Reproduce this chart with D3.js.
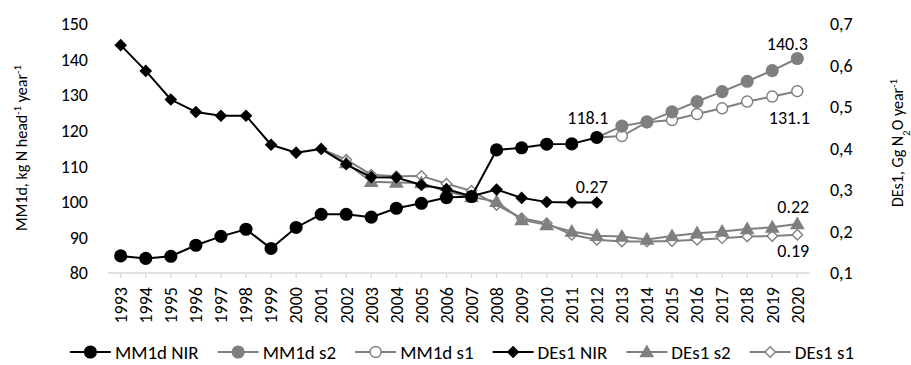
<!DOCTYPE html>
<html>
<head>
<meta charset="UTF-8">
<title>MM1d and DEs1</title>
<script src="https://d3js.org/d3.v7.min.js"></script>
<style>
body { margin: 0; background: #fff; }
text { font-family: Calibri, Carlito, Lato, sans-serif; fill: #000; }
</style>
</head>
<body>
<svg id="chart" width="911" height="365"></svg>
<script>
// years on the category axis
var years = d3.range(1993, 2021).map(String);

// left axis series, kg N head-1 year-1
var mm1dNIR = [84.8, 84.1, 84.7, 87.8, 90.3, 92.3, 86.9, 92.8, 96.5, 96.5,
               95.7, 98.2, 99.6, 101.2, 101.5, 114.6, 115.2, 116.2, 116.3, 118.1];
var mm1dS2Years = ["2012","2013","2014","2015","2016","2017","2018","2019","2020"];
var mm1dS2 = [118.1, 121.3, 122.5, 125.3, 128.2, 131.0, 133.9, 136.9, 140.3];
var mm1dS1 = [118.1, 118.5, 122.4, 123.0, 124.7, 126.3, 128.2, 129.6, 131.1];

// right axis series, Gg N2O year-1
var des1NIR = [0.649, 0.587, 0.518, 0.488, 0.479, 0.479, 0.409, 0.390, 0.399, 0.362,
               0.331, 0.330, 0.312, 0.302, 0.285, 0.301, 0.281, 0.271, 0.270, 0.270];
var des1Years = d3.range(2001, 2021).map(String);
var des1S2 = [0.399, 0.365, 0.320, 0.318, 0.317, 0.296, 0.283, 0.272, 0.228, 0.216,
              0.200, 0.190, 0.188, 0.181, 0.189, 0.196, 0.200, 0.206, 0.210, 0.218];
var des1S1 = [0.399, 0.373, 0.337, 0.333, 0.334, 0.315, 0.298, 0.264, 0.232, 0.220,
              0.192, 0.180, 0.176, 0.176, 0.177, 0.180, 0.184, 0.188, 0.189, 0.192];

var leftTicks = [80, 90, 100, 110, 120, 130, 140, 150];
var rightTicks = [0.1, 0.2, 0.3, 0.4, 0.5, 0.6, 0.7];

var svg = d3.select("#chart");
var gray = "#7f7f7f";

var x = d3.scalePoint().domain(years).range([120.7, 797.3]);
var step = x.step();
var yL = d3.scaleLinear().domain([80, 150]).range([273, 24]);
var yR = d3.scaleLinear().domain([0.1, 0.7]).range([273, 24]);

// x axis
var xAxis = svg.append("g").attr("transform", "translate(0,273)");
xAxis.append("line")
  .attr("x1", x(years[0]) - step / 2).attr("x2", x(years[years.length - 1]) + step / 2)
  .attr("stroke", "#d9d9d9").attr("stroke-width", 1.3);
xAxis.selectAll(".tk").data(years).enter().append("line")
  .attr("x1", function(d) { return x(d); }).attr("x2", function(d) { return x(d); })
  .attr("y1", 0).attr("y2", 5).attr("stroke", "#d9d9d9").attr("stroke-width", 1.3);
xAxis.selectAll(".lb").data(years).enter().append("text")
  .attr("transform", function(d) { return "translate(" + x(d) + ",14) rotate(-90)"; })
  .attr("text-anchor", "end").attr("dy", "0.35em")
  .style("font-size", "18px")
  .text(function(d) { return d; });

// left ticks
svg.append("g").selectAll("text").data(leftTicks).enter().append("text")
  .attr("x", 88).attr("y", function(d) { return yL(d); })
  .attr("dy", "0.35em").attr("text-anchor", "end")
  .style("font-size", "18px")
  .text(function(d) { return d; });

// right ticks
svg.append("g").selectAll("text").data(rightTicks).enter().append("text")
  .attr("x", 830).attr("y", function(d) { return yR(d); })
  .attr("dy", "0.35em")
  .style("font-size", "18px")
  .text(function(d) { return d3.format(".1f")(d).replace(".", ","); });

// axis titles
var tl = svg.append("text")
  .attr("transform", "translate(27,148) rotate(-90)")
  .attr("text-anchor", "middle").style("font-size", "16px");
tl.append("tspan").text("MM1d, kg N head");
tl.append("tspan").attr("baseline-shift", "super").style("font-size", "11px").text("-1");
tl.append("tspan").text(" year");
tl.append("tspan").attr("baseline-shift", "super").style("font-size", "11px").text("-1");

var tr = svg.append("text")
  .attr("transform", "translate(897,143) rotate(-90)")
  .attr("text-anchor", "middle").attr("dy", "0.35em").style("font-size", "16px");
tr.append("tspan").text("DEs1, Gg N");
tr.append("tspan").attr("baseline-shift", "sub").style("font-size", "11px").text("2");
tr.append("tspan").text("O year");
tr.append("tspan").attr("baseline-shift", "super").style("font-size", "11px").text("-1");

// marker shapes
var sym = {
  circle: d3.symbol().type(d3.symbolCircle).size(135),
  ocircle: d3.symbol().type(d3.symbolCircle).size(95),
  diamond: d3.symbol().type(d3.symbolSquare).size(80),
  triangle: d3.symbol().type(d3.symbolTriangle).size(95),
  odiamond: d3.symbol().type(d3.symbolSquare).size(55)
};

function drawMarker(g, kind, color, px, py) {
  var p = g.append("path").attr("d", sym[kind]());
  var t = "translate(" + px + "," + py + ")";
  if (kind == "diamond" || kind == "odiamond") t += " rotate(45)";
  if (kind == "triangle") t += " translate(0,1)";
  p.attr("transform", t);
  if (kind == "ocircle" || kind == "odiamond") {
    p.attr("fill", "#fff").attr("stroke", color).attr("stroke-width", 1.4);
  } else {
    p.attr("fill", color);
  }
  return p;
}

var series = [
  { name: "MM1d NIR", cats: years.slice(0, 20), vals: mm1dNIR, y: yL, color: "#000", kind: "circle" },
  { name: "MM1d s2", cats: mm1dS2Years, vals: mm1dS2, y: yL, color: gray, kind: "circle" },
  { name: "MM1d s1", cats: mm1dS2Years, vals: mm1dS1, y: yL, color: gray, kind: "ocircle" },
  { name: "DEs1 NIR", cats: years.slice(0, 20), vals: des1NIR, y: yR, color: "#000", kind: "diamond" },
  { name: "DEs1 s2", cats: des1Years, vals: des1S2, y: yR, color: gray, kind: "triangle" },
  { name: "DEs1 s1", cats: des1Years, vals: des1S1, y: yR, color: gray, kind: "odiamond" }
];

// draw from back to front so the NIR lines stay on top where they meet
var order = [5, 4, 2, 1, 3, 0];
order.forEach(function(i) {
  var s = series[i];
  var g = svg.append("g");
  var pts = s.cats.map(function(c, j) { return [x(c), s.y(s.vals[j])]; });
  g.append("path").attr("d", d3.line()(pts))
    .attr("fill", "none").attr("stroke", s.color).attr("stroke-width", 2);
  pts.forEach(function(p, j) {
    // the first point of the scenario series is the NIR point already drawn
    if (i != 0 && i != 3 && j == 0) return;
    drawMarker(g, s.kind, s.color, p[0], p[1]);
  });
});

// value labels
var labels = [
  { s: 0, idx: 19, text: "118.1", dx: -9, dy: -20 },
  { s: 1, idx: 8, text: "140.3", dx: -10, dy: -15 },
  { s: 2, idx: 8, text: "131.1", dx: -8, dy: 26 },
  { s: 3, idx: 19, text: "0.27", dx: -5, dy: -16 },
  { s: 4, idx: 19, text: "0.22", dx: -4, dy: -17 },
  { s: 5, idx: 19, text: "0.19", dx: -4, dy: 16 }
];
labels.forEach(function(l) {
  var s = series[l.s];
  svg.append("text")
    .attr("x", x(s.cats[l.idx]) + l.dx)
    .attr("y", s.y(s.vals[l.idx]) + l.dy)
    .attr("dy", "0.35em").attr("text-anchor", "middle")
    .style("font-size", "18px")
    .text(l.text);
});

// legend
var legend = svg.append("g");
var lx = 0;
series.forEach(function(s, i) {
  var g = legend.append("g").attr("transform", "translate(" + lx + ",0)");
  g.append("line").attr("x1", 0).attr("x2", 41)
    .attr("stroke", s.color).attr("stroke-width", 2);
  drawMarker(g, s.kind, s.color, 20.5, 0);
  var t = g.append("text").attr("x", 45).attr("dy", "0.35em")
    .style("font-size", "19px").text(s.name);
  lx += 45 + t.node().getComputedTextLength() + 19;
});
var lw = lx - 19;
legend.attr("transform", "translate(" + (462 - lw / 2) + ",352)");
</script>
</body>
</html>
